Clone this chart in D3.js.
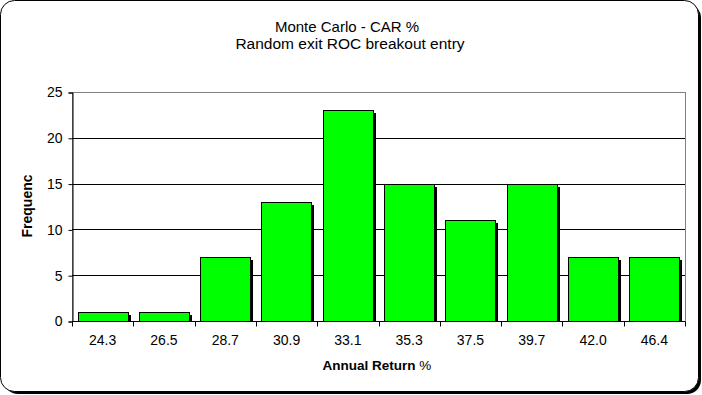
<!DOCTYPE html>
<html>
<head>
<meta charset="utf-8">
<script src="https://cdn.jsdelivr.net/npm/d3@7"></script>
<style>
  body { margin: 0; background: #fff; }
  text { font-family: "Liberation Sans", Arial, sans-serif; }
</style>
</head>
<body>
<svg width="702" height="395"></svg>
<script>
const categories = ["24.3", "26.5", "28.7", "30.9", "33.1", "35.3", "37.5", "39.7", "42.0", "46.4"];
const frequency = [1, 1, 7, 13, 23, 15, 11, 15, 7, 7];
const yTicks = [0, 5, 10, 15, 20, 25];

const svg = d3.select("svg");
var margin = { top: 92, right: 17, bottom: 74, left: 72 };
var width = +svg.attr("width");
var height = +svg.attr("height");

// outer frame with shadow
svg.append("rect")
    .attr("x", 4).attr("y", 4)
    .attr("width", width - 5).attr("height", height - 5)
    .attr("rx", 14)
    .attr("fill", "black");
svg.append("rect")
    .attr("x", 0.5).attr("y", 0.5)
    .attr("width", width - 4).attr("height", height - 4)
    .attr("rx", 14)
    .attr("fill", "white")
    .attr("stroke", "black");

const xScale = d3.scaleBand()
    .domain(categories)
    .range([margin.left, width - margin.right])
    .paddingInner(0.18)
    .paddingOuter(0.09);
const yScale = d3.scaleLinear()
    .domain([0, 25])
    .range([height - margin.bottom, margin.top]);

const g = svg.append("g");

// plot border (gray) and grid lines (black)
g.append("rect")
    .attr("x", margin.left + 0.5).attr("y", yScale(25) + 0.5)
    .attr("width", width - margin.right - margin.left)
    .attr("height", yScale(0) - yScale(25))
    .attr("fill", "none")
    .attr("stroke", "#808080");
g.selectAll(".grid")
    .data(yTicks.filter(d => d > 0 && d < 25))
    .enter().append("line")
    .attr("x1", margin.left).attr("x2", width - margin.right)
    .attr("y1", d => Math.round(yScale(d)) + 0.5)
    .attr("y2", d => Math.round(yScale(d)) + 0.5)
    .attr("stroke", "black");

// bar shadows
g.selectAll(".shadow")
    .data(frequency)
    .enter().append("rect")
    .attr("x", (d, i) => Math.round(xScale(categories[i])) + 3)
    .attr("y", d => Math.round(yScale(d)) + 3)
    .attr("width", Math.round(xScale.bandwidth()))
    .attr("height", d => Math.round(yScale(0)) - Math.round(yScale(d)) - 3)
    .attr("fill", "black");

// bars
g.selectAll(".bar")
    .data(frequency)
    .enter().append("rect")
    .attr("x", (d, i) => Math.round(xScale(categories[i])) + 0.5)
    .attr("y", d => Math.round(yScale(d)) + 0.5)
    .attr("width", Math.round(xScale.bandwidth()))
    .attr("height", d => Math.round(yScale(0)) - Math.round(yScale(d)))
    .attr("fill", "#00ff00")
    .attr("stroke", "black");

// axes
const yAxis = d3.axisLeft(yScale).tickValues(yTicks).tickSize(4).tickPadding(6);
const gY = g.append("g")
    .attr("transform", `translate(${margin.left + 0.5}, 0.5)`)
    .call(yAxis);
const xAxis = d3.axisBottom(xScale).tickSize(0).tickPadding(14);
const gX = g.append("g")
    .attr("transform", `translate(0, ${Math.round(yScale(0)) + 0.5})`)
    .call(xAxis);
// tick marks between categories
gX.selectAll(".sep")
    .data(d3.range(categories.length + 1))
    .enter().append("line")
    .attr("x1", i => Math.round(margin.left + i * xScale.step()) + 0.5)
    .attr("x2", i => Math.round(margin.left + i * xScale.step()) + 0.5)
    .attr("y1", 0).attr("y2", 5)
    .attr("stroke", "black");

[gX, gY].forEach(a => {
    a.select(".domain").attr("stroke", "black");
    a.selectAll("line").attr("stroke", "black");
    a.selectAll("text").attr("font-size", 14).attr("fill", "black")
        .style("font-family", "'Liberation Sans', Arial, sans-serif");
});
gX.select(".domain").remove();
g.append("line")
    .attr("x1", margin.left).attr("x2", width - margin.right)
    .attr("y1", Math.round(yScale(0)) + 0.5).attr("y2", Math.round(yScale(0)) + 0.5)
    .attr("stroke", "black");

// titles
svg.append("text")
    .attr("x", 347).attr("y", 32)
    .attr("text-anchor", "middle")
    .attr("font-size", 15)
    .text("Monte Carlo - CAR %");
svg.append("text")
    .attr("x", 350).attr("y", 49)
    .attr("text-anchor", "middle")
    .attr("font-size", 15.5)
    .text("Random exit ROC breakout entry");

const xLabel = svg.append("text")
    .attr("x", 377).attr("y", 370)
    .attr("text-anchor", "middle")
    .attr("font-size", 13.5)
    .attr("font-weight", "bold")
    .text("Annual Return ");
xLabel.append("tspan").attr("font-weight", "normal").text("%");

svg.append("text")
    .attr("transform", "rotate(-90)")
    .attr("x", -206).attr("y", 32)
    .attr("text-anchor", "middle")
    .attr("font-size", 14)
    .attr("font-weight", "bold")
    .text("Frequenc");
</script>
</body>
</html>
